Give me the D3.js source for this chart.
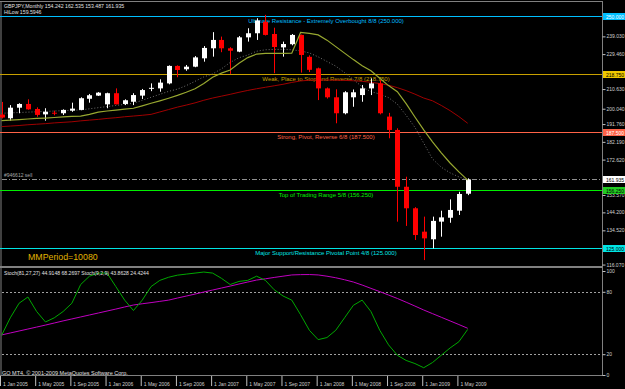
<!DOCTYPE html>
<html>
<head>
<meta charset="utf-8">
<script src="https://cdn.jsdelivr.net/npm/d3@7"></script>
<style>
  body { margin: 0; background: #000; }
  svg { display: block; }
  text { font-family: "Liberation Sans", Arial, sans-serif; }
</style>
</head>
<body>
<div id="chart"></div>
<script>
// GBPJPY monthly, Jan 2005 .. Jun 2009 (one entry per month)
const opens  = [196.9,194.9,200.6,202.6,199.9,197.0,197.9,197.6,199.0,199.4,205.4,207.1,202.4,208.4,202.6,203.8,207.1,210.9,211.0,213.7,223.1,221.3,222.7,227.2,232.6,237.1,232.6,230.8,238.5,240.7,246.9,240.3,233.1,234.8,239.8,228.0,221.8,211.0,206.2,197.6,206.2,207.4,211.0,213.7,195.8,188.6,158.0,146.4,133.8,129.7,139.2,141.3,145.1,154.242]
const highs  = [203.7,202.0,203.0,205.1,200.8,200.3,199.0,199.7,203.3,206.2,208.0,209.0,208.7,211.0,205.1,208.4,210.7,213.7,215.9,223.4,223.4,223.6,228.4,233.8,241.3,238.9,233.2,239.2,243.4,248.8,250.6,243.7,236.2,240.3,240.0,228.8,222.2,211.5,210.5,209.5,210.4,212.8,216.4,215.5,197.8,189.5,163.4,147.0,141.9,141.9,145.1,151.2,155.3,162.535]
const lows   = [194.8,193.6,197.6,199.5,195.7,193.6,196.5,196.7,198.4,199.2,203.3,206.9,200.3,202.4,202.0,202.0,205.3,209.5,209.2,213.2,217.0,220.5,222.4,225.4,228.1,230.5,218.8,230.5,236.2,237.1,239.5,219.2,228.1,234.2,219.5,219.8,204.7,205.5,192.2,197.0,201.1,203.8,207.4,197.0,184.1,139.2,136.9,129.3,118.5,124.8,131.1,138.6,142.8,153.487]
const closes = [195.3,200.6,202.6,199.7,196.7,198.4,197.6,199.4,200.1,205.7,207.3,208.7,208.4,202.4,204.6,207.4,210.1,211.3,214.1,223.1,220.9,222.7,227.7,232.8,237.1,232.6,231.3,238.5,240.7,247.6,239.8,233.3,234.9,239.8,229.0,221.0,211.0,206.2,197.6,208.9,208.9,211.0,213.7,197.6,188.6,158.0,146.4,132.0,130.2,139.6,141.5,145.5,154.1,161.935]

// moving averages drawn on the price panel
const maOlive = [193.6,193.9,194.2,194.5,194.8,195.0,195.3,195.6,195.9,196.1,197.0,198.2,198.8,199.3,199.8,200.3,201.6,203.0,204.3,205.7,207.2,208.9,210.8,213.6,217.0,219.2,220.9,224.5,227.6,229.5,229.9,229.9,229.9,230.0,241.1,240.6,239.8,237.0,233.5,230.0,226.5,223.2,220.5,216.5,212.5,209.2,202.8,195.6,188.6,182.2,176.3,170.8,166.0,161.6]
const maGray  = [197.6,197.8,198.0,198.2,198.4,198.6,198.8,199.0,199.2,199.4,200.0,200.6,201.2,201.8,202.4,203.0,204.6,206.2,207.8,209.4,210.6,212.5,214.8,217.2,218.8,221.5,225.0,227.5,229.0,231.0,231.8,232.0,232.0,231.8,231.2,230.1,228.0,225.5,223.0,219.5,215.8,211.8,209.2,208.0,206.0,202.5,196.5,190.0,181.5,173.0,168.5,165.5,163.3,161.8]
const maRed   = [190.4,190.7,191.0,191.4,191.7,192.0,192.4,192.7,193.0,193.5,193.9,194.3,194.8,195.2,195.7,196.1,196.5,197.0,198.3,199.6,200.9,202.0,203.2,204.6,205.8,206.8,207.8,208.9,209.9,210.8,211.6,212.4,213.2,214.2,215.0,215.4,215.5,215.5,215.4,215.3,215.1,214.8,214.3,213.6,212.7,211.4,209.8,207.9,205.8,204.3,201.8,199.0,195.8,192.2]

// stochastic panel
const stochFast = [38,55,69,75,61,51,55,61,69,87,95,98,98,85,72,62,72,85,91,94,96,97,98,99,98,93,87,90,91,95,91,82,76,72,58,43,34,36,43,55,67,72,61,43,29,19,14,11,7,12,19,26,32,43.86]
const stochSlow = [38.5,40.4,42.3,44.2,46.1,48.0,50.0,52.0,53.9,55.8,57.7,59.6,61.5,63.4,65.4,67.3,68.5,69.6,70.8,72.0,74.0,75.9,77.8,79.8,81.7,83.6,85.5,87.5,89.4,91.3,92.5,93.8,95.0,96.2,96.5,96.6,96.2,95.0,93.5,91.6,89.4,86.5,83.3,80.2,76.9,73.6,70.0,66.3,62.5,59.0,55.5,52.0,48.5,44.91]
const stochLevels = [80, 20]
const stochTicks = [100, 80, 20, 0]

// Murrey math levels
const levels = [250, 218.75, 187.5, 156.25, 125]
const levelNames = [
  "Ultimate Resistance - Extremely Overbought  8/8  (250.000)",
  "Weak, Place to Stop and Reverse  7/8  (218.750)",
  "Strong, Pivot, Reverse  6/8  (187.500)",
  "Top of Trading Range  5/8  (156.250)",
  "Major Support/Resistance Pivotal Point  4/8  (125.000)"
]
const lastPrice = 161.935

// visible price scale labels (the ones under the coloured boxes are hidden in MT4)
const priceTicks = [239.03, 229.46, 210.63, 200.04, 191.76, 182.19, 172.62, 153.57, 144.2, 134.52, 116.07]
const dateTicks = [0, 4, 8, 12, 16, 20, 24, 28, 32, 36, 40, 44, 48, 52]
const dateLabels = ["1 Jan 2005","1 May 2005","1 Sep 2005","1 Jan 2006","1 May 2006","1 Sep 2006","1 Jan 2007","1 May 2007","1 Sep 2007","1 Jan 2008","1 May 2008","1 Sep 2008","1 Jan 2009","1 May 2009"]

const levelColors = ["#00bfff", "#c8a000", "#ff6347", "#00ee00", "#00e5e5"]
const boxColors   = ["#00bfff", "#f0c800", "#ff6347", "#22cc22", "#00e5e5"]
const boxText     = ["#fff", "#000", "#fff", "#000", "#000"]

function createChart() {
  const width = 625
  const height = 389
  const right = 602
  const fs = 6      // level captions
  const small = 5   // axis / info texts

  const x = d3.scaleLinear().domain([0, 53]).range([1.5, 467.7])
  const y = d3.scaleLinear().domain([125, 250]).range([248, 16])
  const ys = d3.scaleLinear().domain([0, 100]).range([375, 271])

  const svg = d3.select("#chart")
    .append("svg")
    .attr("width", width)
    .attr("height", height)
    .style("background", "#000")

  // frame
  const frame = svg.append("g").attr("stroke", "#808080").attr("fill", "none")
  frame.append("line").attr("x1", 0).attr("x2", right).attr("y1", 1.5).attr("y2", 1.5)
  frame.append("line").attr("x1", 1).attr("x2", 1).attr("y1", 1).attr("y2", 376)
  frame.append("line").attr("x1", right + 0.5).attr("x2", right + 0.5).attr("y1", 1).attr("y2", 376)
  frame.append("line").attr("x1", 0).attr("x2", right).attr("y1", 267).attr("y2", 267).attr("stroke-width", 2)
  frame.append("line").attr("x1", 0).attr("x2", right).attr("y1", 375.5).attr("y2", 375.5)

  // price axis
  const yAxis = svg.append("g")
    .attr("transform", `translate(${right + 0.5},0)`)
    .call(d3.axisRight(y).tickValues(priceTicks).tickFormat(d3.format(".3f")).tickSize(3).tickPadding(1))
  yAxis.select(".domain").remove()
  yAxis.selectAll("line").attr("stroke", "#c0c0c0")
  yAxis.selectAll("text").attr("fill", "#d0d0d0").attr("font-size", small).attr("font-family", "Liberation Sans, Arial")

  // stoch axis
  const sAxis = svg.append("g")
    .attr("transform", `translate(${right + 0.5},0)`)
    .call(d3.axisRight(ys).tickValues(stochTicks).tickFormat(d3.format("d")).tickSize(3).tickPadding(1))
  sAxis.select(".domain").remove()
  sAxis.selectAll("line").attr("stroke", "#c0c0c0")
  sAxis.selectAll("text").attr("fill", "#d0d0d0").attr("font-size", small).attr("font-family", "Liberation Sans, Arial")

  // date axis
  const dAxis = svg.append("g").selectAll("g").data(dateTicks).enter().append("g")
  dAxis.append("line")
    .attr("x1", d => x(d) - 1).attr("x2", d => x(d) - 1)
    .attr("y1", 376).attr("y2", 386)
    .attr("stroke", "#c0c0c0")
  dAxis.append("text")
    .attr("x", d => x(d) + 1.5).attr("y", 385.5)
    .attr("fill", "#d0d0d0").attr("font-size", small)
    .text((d, i) => dateLabels[i])

  // level lines
  svg.append("g").selectAll("line").data(levels).enter().append("line")
    .attr("x1", 0).attr("x2", right)
    .attr("y1", d => Math.round(y(d)) + 0.5).attr("y2", d => Math.round(y(d)) + 0.5)
    .attr("stroke", (d, i) => levelColors[i])

  svg.append("g").selectAll("text").data(levels).enter().append("text")
    .attr("x", 326).attr("y", d => y(d) + 6.5)
    .attr("text-anchor", "middle")
    .attr("font-size", fs)
    .attr("fill", (d, i) => levelColors[i])
    .text((d, i) => levelNames[i])

  // last price dash-dot line
  svg.append("line")
    .attr("x1", 2).attr("x2", right)
    .attr("y1", Math.round(y(lastPrice)) + 0.5).attr("y2", Math.round(y(lastPrice)) + 0.5)
    .attr("stroke", "#909090").attr("stroke-dasharray", "5,2,1,2")
  svg.append("text").attr("x", 4).attr("y", y(lastPrice) - 2.5)
    .attr("font-size", small).attr("fill", "#a8a8a8").text("#946612 sell")

  // moving averages
  const idx = d3.range(opens.length)
  const maLine = arr => d3.line().x(i => x(i)).y(i => y(arr[i]))(idx)
  svg.append("path").attr("d", maLine(maRed)).attr("fill", "none").attr("stroke", "#a00000")
  svg.append("path").attr("d", maLine(maGray)).attr("fill", "none").attr("stroke", "#707070").attr("stroke-dasharray", "1,2")

  // candles
  const candles = svg.append("g").selectAll("g").data(idx).enter().append("g")
  const col = i => closes[i] >= opens[i] ? "#ffffff" : "#ff0000"
  candles.append("line")
    .attr("x1", i => Math.round(x(i)) + 0.5).attr("x2", i => Math.round(x(i)) + 0.5)
    .attr("y1", i => y(highs[i])).attr("y2", i => y(lows[i]))
    .attr("stroke", col)
  candles.append("rect")
    .attr("x", i => Math.round(x(i)) - 2)
    .attr("width", 5)
    .attr("y", i => y(Math.max(opens[i], closes[i])))
    .attr("height", i => Math.max(1, Math.abs(y(opens[i]) - y(closes[i]))))
    .attr("fill", col)

  svg.append("path").attr("d", maLine(maOlive)).attr("fill", "none").attr("stroke", "#98a830").attr("stroke-width", 1.2)

  // right side price boxes
  const boxes = levels.map((v, i) => ({ v, fill: boxColors[i], txt: boxText[i] }))
  boxes.push({ v: lastPrice, fill: "#ffffff", txt: "#000" })
  const bx = svg.append("g").selectAll("g").data(boxes).enter().append("g")
    .attr("transform", d => `translate(${right + 1},${Math.round(y(d.v)) - 3})`)
  bx.append("rect").attr("width", 23).attr("height", 7).attr("fill", d => d.fill)
  bx.append("text").attr("x", 3).attr("y", 5.5).attr("font-size", small)
    .attr("fill", d => d.txt).text(d => d3.format(".3f")(d.v))

  // stochastic panel
  svg.append("g").selectAll("line").data(stochLevels).enter().append("line")
    .attr("x1", 2).attr("x2", right)
    .attr("y1", d => Math.round(ys(d)) + 0.5).attr("y2", d => Math.round(ys(d)) + 0.5)
    .attr("stroke", "#a0a0a0").attr("stroke-dasharray", "2,2")
  const stLine = arr => d3.line().x(i => x(i)).y(i => ys(arr[i]))(idx)
  svg.append("path").attr("d", stLine(stochSlow)).attr("fill", "none").attr("stroke", "#c000c0")
  svg.append("path").attr("d", stLine(stochFast)).attr("fill", "none").attr("stroke", "#00a800")

  // texts
  svg.append("text").attr("x", 4).attr("y", 8).attr("font-size", 5.2).attr("fill", "#e0e0e0")
    .text("GBPJPY,Monthly  154.242 162.535 153.487 161.935")
  svg.append("text").attr("x", 4).attr("y", 14).attr("font-size", 5.2).attr("fill", "#e0e0e0")
    .text("HiLow  159.5946")
  svg.append("text").attr("x", 28).attr("y", 260).attr("font-size", 8.8).attr("fill", "#e0b400")
    .text("MMPeriod=10080")
  svg.append("text").attr("x", 4).attr("y", 275).attr("font-size", 5.1).attr("fill", "#e0e0e0")
    .text("Stoch(81,27,27) 44.9148 68.2697  Stoch(9,2,9) 43.8628 24.4244")
  svg.append("text").attr("x", 2).attr("y", 374.5).attr("font-size", 5.5).attr("fill", "#e0e0e0")
    .text("GO MT4, © 2001-2009 MetaQuotes Software Corp.")
}

document.addEventListener("DOMContentLoaded", () => {
  createChart()
})
</script>
</body>
</html>
